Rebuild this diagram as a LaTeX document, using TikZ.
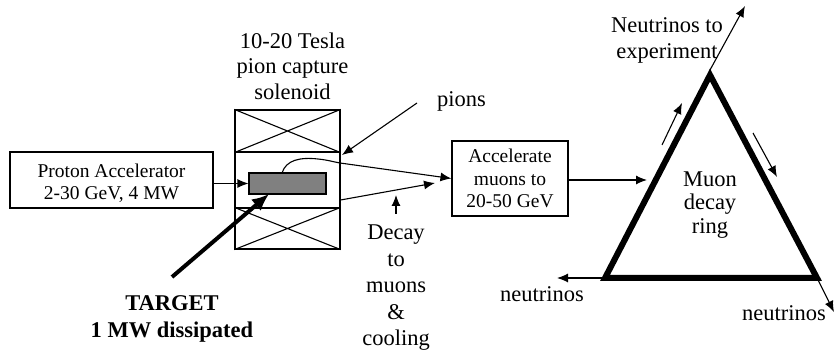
\documentclass[tikz,border=0pt]{standalone}
\usepackage{fontspec}
\setmainfont{Liberation Serif}
\usetikzlibrary{arrows.meta}
\tikzset{
  thin line/.style={line width=1.1pt},
  box/.style={draw, thin line, align=center, inner sep=0pt, font=\fontsize{19.5}{22.5}\selectfont},
  lbl/.style={align=center, inner sep=0pt, font=\fontsize{22.5}{25.5}\selectfont},
  arr/.style={thin line, -{Latex[length=11pt,width=9pt]}},
  coil/.style={draw, thin line, inner sep=0pt},
}
\begin{document}
\begin{tikzpicture}[x=1pt,y=-1pt]
\useasboundingbox (0,0) rectangle (835,352);
% proton accelerator
\node[box, minimum width=203pt, minimum height=56pt] (prot) at (111.5,180) {};
\node[box, draw=none] (prottxt) at (111.5,183) {Proton Accelerator\\2-30 GeV, 4 MW};
% solenoid
\node[coil, minimum width=105pt, minimum height=139pt] (sol) at (287.5,179.5) {};
\node[coil, minimum width=105pt, minimum height=42pt] (ucoil) at (287.5,131) {};
\node[coil, minimum width=105pt, minimum height=41pt] (lcoil) at (287.5,228.5) {};
\draw[thin line] (ucoil.north west) -- (ucoil.south east) (ucoil.north east) -- (ucoil.south west);
\draw[thin line] (lcoil.north west) -- (lcoil.south east) (lcoil.north east) -- (lcoil.south west);
\node[lbl] (soltxt) at (292.5,66) {10-20 Tesla\\pion capture\\solenoid};
% target
\node[draw, thin line, fill=black!50, minimum width=77pt, minimum height=21pt, inner sep=0pt] (target) at (287.5,183.5) {};
\draw[arr] (prot.east |- target.west) -- (target.west);
% accelerate box
\node[box, minimum width=116pt, minimum height=75pt] (acc) at (510,178.5) {Accelerate\\muons to\\20-50 GeV};
% pion lines
\coordinate (pc) at (282,173);
\draw[arr] (pc) .. controls (286,160) and (300,157) .. (318,159) .. controls (328,160) and (334,162) .. (340,163) -- (acc.west);
\coordinate (lowend) at (435,183);
\draw[arr] (sol.east |- 0,200) -- (lowend);
% pions label
\node[lbl, anchor=west] (pions) at (437,101) {pions};
\path (pions.west |- 0,103) ++(-20,0) coordinate (pstart);
\draw[arr] (pstart) -- (342,155);
% decay label
\node[lbl, anchor=north, font=\fontsize{22.5}{26.5}\selectfont] (decay) at (396,225) {Decay\\to\\muons\\\&\\cooling};
\path (decay.north) ++(0,-11) coordinate (dstart);
\draw[arr] (dstart) -- (396,195);
% target label
\node[lbl, font=\fontsize{22.5}{27}\selectfont\bfseries] (tgt) at (172,319) {TARGET\\1 MW dissipated};
\coordinate (tstart) at (172,277);
\draw[line width=4pt, -{Latex[length=17pt,width=15pt]}] (tstart) -- (269,194);
% triangle
\coordinate (A) at (710,75);
\coordinate (B) at (605,278);
\coordinate (C) at (817,278);
\draw[line width=6pt, line join=miter] (A) -- (B) -- (C) -- cycle;
\node[lbl, font=\fontsize{22.5}{23.5}\selectfont] (ring) at (710,205) {Muon\\decay\\ring};
\coordinate (ringin) at (647,180);
\draw[arr] (acc.east |- ringin) -- (ringin);
% small direction arrows
\draw[arr] (662,145) -- (682,103);
\draw[arr] (753,133) -- (777,177);
% neutrinos
\node[lbl] (nexp) at (667,40.5) {Neutrinos to\\experiment};
\draw[arr] (710,70) -- (745,6);
\node[lbl] (nleft) at (542,294) {neutrinos};
\draw[arr] (B) -- (557,278);
\node[lbl, anchor=east] (nright) at (826,313) {neutrinos};
\draw[arr] (C) -- (834,312);
\end{tikzpicture}
\end{document}
